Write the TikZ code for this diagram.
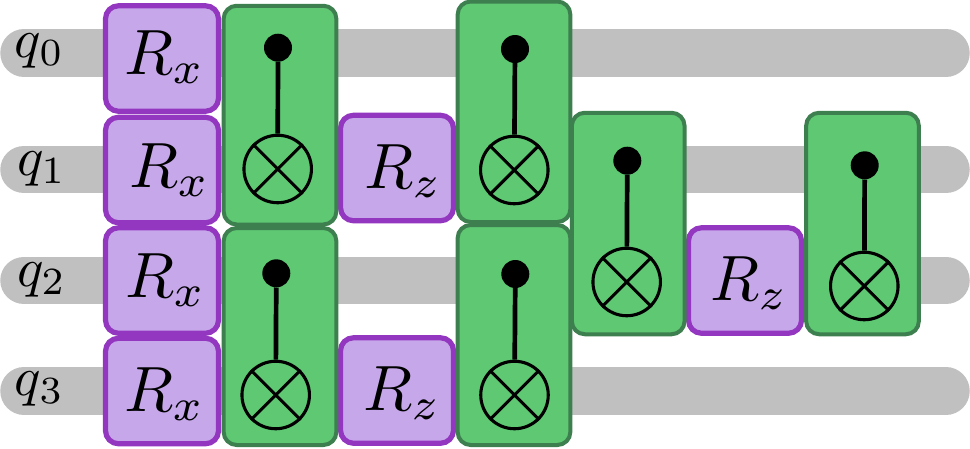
\documentclass[tikz,border=0pt]{standalone}
\definecolor{wirec}{HTML}{C0C0C0}
\definecolor{pfill}{HTML}{C6A8EA}
\definecolor{pdraw}{HTML}{9437C0}
\definecolor{gfill}{HTML}{5EC873}
\definecolor{gdraw}{HTML}{3D7F4F}
\tikzset{
  wirebar/.style={line width=47.5pt,draw=wirec,line cap=round},
  rotbox/.style={draw=pdraw,fill=pfill,line width=5.2pt,rounded corners=13pt,minimum width=113pt,minimum height=105.5pt,inner sep=0pt},
  cbox/.style={draw=gdraw,fill=gfill,line width=4pt,rounded corners=13pt,minimum width=112.7pt,inner sep=0pt},
  ctrl/.style={circle,fill=black,minimum size=28pt,inner sep=0pt},
  targ/.style={circle,draw=black,line width=3.1pt,minimum size=67.5pt,inner sep=0pt},
  stem/.style={line width=4.7pt,draw=black},
  gatetxt/.style={scale=6.4,anchor=base west,inner sep=0pt,outer sep=0pt},
  wiretxt/.style={scale=5.5,anchor=base west,inner sep=0pt,outer sep=0pt}
}
\newcommand{\cnotgate}[6]{% name, box cx, top, bottom, dot x, dot y
  \node[cbox,minimum height=#4pt-#3pt] (#1) at (#2,{(#3+#4)/2}) {};
  \node[ctrl] (#1c) at (#5,#6) {};
}
\newcommand{\cnottarget}[3]{%
  \node[targ] (#1t) at (#2,#3) {};
  \draw[stem] (#1c) -- (#1t);
  \draw[line width=3.1pt] (#1t.north west) -- (#1t.south east) (#1t.north east) -- (#1t.south west);
}
\begin{document}
\begin{tikzpicture}[x=1pt,y=-1pt]
\useasboundingbox (0,0) rectangle (970,448);
% wires
\coordinate (w0a) at (24,53); \coordinate (w0b) at (946,53);
\coordinate (w1a) at (24,169.7); \coordinate (w1b) at (946,169.7);
\coordinate (w2a) at (24,280.3); \coordinate (w2b) at (946,280.3);
\coordinate (w3a) at (24,391); \coordinate (w3b) at (946,391);
\draw[wirebar] (w0a) -- (w0b);
\draw[wirebar] (w1a) -- (w1b);
\draw[wirebar] (w2a) -- (w2b);
\draw[wirebar] (w3a) -- (w3b);
\node[wiretxt] (l0) at (15,57) {$q_0$};
\node[wiretxt] (l1) at (17,175) {$q_1$};
\node[wiretxt] (l2) at (17,286) {$q_2$};
\node[wiretxt] (l3) at (15,395) {$q_3$};
% rotation gates
\node[rotbox] (a0) at (162,58.5) {};
\node[gatetxt] (ta0) at (124,74) {$R_x$};
\node[rotbox] (a1) at (162,170) {};
\node[gatetxt] (ta1) at (129,187) {$R_x$};
\node[rotbox] (a2) at (162,280.5) {};
\node[gatetxt] (ta2) at (125,297) {$R_x$};
\node[rotbox] (a3) at (162,391) {};
\node[gatetxt] (ta3) at (124,411) {$R_x$};
\node[rotbox] (z1) at (397,168) {};
\node[gatetxt] (tz1) at (364,188) {$R_z$};
\node[rotbox] (z3) at (397,390.5) {};
\node[gatetxt] (tz3) at (363,410) {$R_z$};
\node[rotbox] (z2) at (745,280.5) {};
\node[gatetxt] (tz2) at (710,300) {$R_z$};
% controlled gates
\cnotgate{c5}{628.2}{112.75}{334.25}{627.3}{160.7}\cnottarget{c5}{626.7}{282}
\cnotgate{c1}{280}{5.75}{224.5}{278}{47.7}\cnottarget{c1}{277.7}{169}
\cnotgate{c2}{280}{228}{445}{276.3}{273.3}\cnottarget{c2}{275.7}{395}
\cnotgate{c3}{514}{1.5}{222}{515}{49}\cnottarget{c3}{514.3}{170}
\cnotgate{c4}{514}{225}{445}{515.3}{274}\cnottarget{c4}{514.5}{395}
\cnotgate{c6}{862.5}{112.75}{334.25}{864.7}{165.3}\cnottarget{c6}{864.3}{286}
\end{tikzpicture}
\end{document}
